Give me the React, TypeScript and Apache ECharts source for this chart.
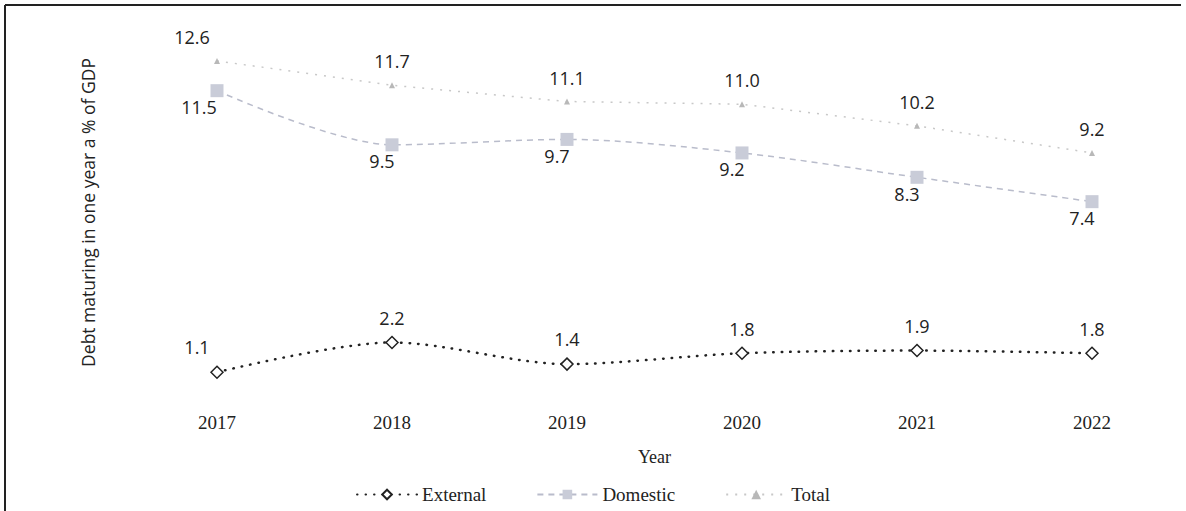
import React, { useEffect, useRef } from "react";
import * as echarts from "echarts";

const years = ["2017", "2018", "2019", "2020", "2021", "2022"];
const external = [1.1, 2.2, 1.4, 1.8, 1.9, 1.8];
const domestic = [11.5, 9.5, 9.7, 9.2, 8.3, 7.4];
const total = [12.6, 11.7, 11.1, 11.0, 10.2, 9.2];

const sans = "'Open Sans', 'Noto Sans', sans-serif";
const serif = "'Liberation Serif', 'DejaVu Serif', serif";

export default function App() {
  const ref = useRef<HTMLDivElement>(null);
  useEffect(() => {
    if (!ref.current) return;
    const chart = echarts.init(ref.current, null, { renderer: "svg" });
    const withFirstOffset = (vals: number[], off: number[]) =>
      vals.map((v, i) => (i === 0 ? { value: v, label: { offset: off } } : v));
    const fmt = (p: any) => Number(p.value).toFixed(1);
    chart.setOption({
      animation: false,
      backgroundColor: "#ffffff",
      grid: { left: 217, right: 94, top: 23, bottom: 109 },
      xAxis: {
        type: "category",
        data: years,
        boundaryGap: false,
        axisLine: { show: false },
        axisTick: { show: false },
        axisLabel: { margin: 11, fontFamily: serif, fontSize: 19, color: "#222" },
        name: "Year",
        nameLocation: "middle",
        nameGap: 46,
        nameTextStyle: { fontFamily: serif, fontSize: 18, color: "#222" },
      },
      yAxis: {
        type: "value",
        min: 0,
        max: 14,
        axisLine: { show: false },
        axisTick: { show: false },
        axisLabel: { show: false },
        splitLine: { show: false },
        name: "Debt maturing in one year a % of GDP",
        nameLocation: "middle",
        nameGap: 120,
        nameTextStyle: { fontFamily: sans, fontSize: 17.5, color: "#222" },
      },
      legend: {
        left: "center",
        top: 480,
        itemWidth: 60,
        itemHeight: 12,
        itemGap: 50,
        textStyle: { fontFamily: serif, fontSize: 19, color: "#222" },
        data: ["External", "Domestic", "Total"],
      },
      graphic: [
        { type: "line", shape: { x1: 5, y1: 5, x2: 1181, y2: 5 }, style: { stroke: "#222", lineWidth: 2 } },
        { type: "line", shape: { x1: 5, y1: 5, x2: 5, y2: 511 }, style: { stroke: "#222", lineWidth: 2 } },
      ],
      series: [
        {
          name: "External",
          type: "line",
          data: withFirstOffset(external, [-20, 0]),
          smooth: 0.3,
          symbol: "diamond",
          symbolSize: 12,
          itemStyle: { color: "#ffffff", borderColor: "#222", borderWidth: 1.5 },
          lineStyle: { color: "#222", width: 2.5, type: [0.5, 8], cap: "round" },
          label: {
            show: true,
            position: "top",
            distance: 9,
            fontFamily: sans,
            fontSize: 18,
            color: "#222",
            formatter: fmt,
          },
        },
        {
          name: "Domestic",
          type: "line",
          data: withFirstOffset(domestic, [-18, 0]),
          smooth: 0.3,
          symbol: "rect",
          symbolSize: 13,
          itemStyle: { color: "#c9ccd8" },
          lineStyle: { color: "#b9bccb", width: 1.5, type: [6, 5] },
          label: {
            show: true,
            position: "bottom",
            distance: 1,
            offset: [-10, 0],
            fontFamily: sans,
            fontSize: 18,
            color: "#222",
            formatter: fmt,
          },
        },
        {
          name: "Total",
          type: "line",
          data: withFirstOffset(total, [-25, 0]),
          symbol: "triangle",
          symbolSize: 6,
          itemStyle: { color: "#b8b8b8" },
          lineStyle: { color: "#c8c8c8", width: 1.5, type: [2, 7] },
          label: {
            show: true,
            position: "top",
            distance: 12,
            fontFamily: sans,
            fontSize: 18,
            color: "#222",
            formatter: fmt,
          },
        },
      ],
    });
    return () => chart.dispose();
  }, []);
  return (
    <div
      ref={ref}
      style={{ position: "fixed", left: 0, top: 0, width: 1186, height: 511 }}
    />
  );
}
